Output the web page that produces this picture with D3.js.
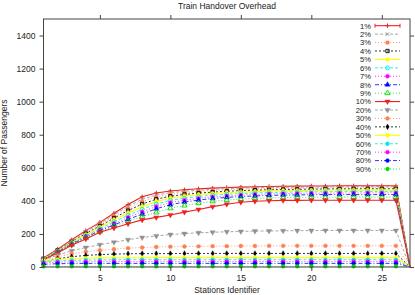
<!DOCTYPE html>
<html>
<head>
<meta charset="utf-8">
<script src="https://cdn.jsdelivr.net/npm/d3@7"></script>
<style>
  body { margin: 0; background: #fff; }
  svg { display: block; font-family: "Liberation Sans", Arial, sans-serif; }
</style>
</head>
<body>
<div id="chart"></div>
<script>
// station ids 1..27
const stations = d3.range(1, 28);
const labels = ['1%', '2%', '3%', '4%', '5%', '6%', '7%', '8%', '9%', '10%',
  '20%', '30%', '40%', '50%', '60%', '70%', '80%', '90%'];

const s1  = [55,108,165,220,270,325,378,425,448,460,467,473,477,481,483,485,487,488,489,490,490,491,491,491,491,491,0];
const s2  = [52,105,160,214,263,316,366,410,435,450,458,465,470,474,477,479,481,482,483,484,485,485,486,486,486,486,0];
const s3  = [50,102,156,208,256,306,354,396,423,440,449,457,463,467,470,473,475,476,477,478,479,479,480,480,480,480,0];
const s4  = [50,100,152,202,248,296,341,381,410,428,439,447,453,458,462,465,467,469,470,471,472,472,473,473,473,473,0];
const s5  = [48,97,148,195,240,285,327,365,396,416,428,437,444,449,453,456,459,461,462,463,464,464,465,465,465,465,0];
const s6  = [47,95,144,189,232,274,313,349,381,403,416,426,434,440,444,448,450,452,454,455,455,456,456,456,456,456,0];
const s7  = [46,93,141,184,225,264,300,334,366,390,404,415,424,430,435,439,442,444,445,446,447,447,448,448,448,448,0];
const s8  = [45,91,138,180,219,255,288,320,352,377,393,405,414,421,426,430,433,435,436,437,438,438,438,438,438,438,0];
const s9  = [44,88,135,175,214,247,277,305,330,355,372,386,397,405,411,415,418,420,421,422,422,422,423,423,423,423,0];
const s10 = [44,85,132,170,210,236,262,285,300,315,332,348,365,380,392,398,401,403,403,404,404,404,404,404,404,404,0];
const s20 = [42,72,98,118,135,150,165,178,188,196,202,207,210,213,215,217,218,219,220,220,221,221,221,221,221,221,0];
const s30 = [38,62,80,92,101,108,114,118,121,123,124,125,126,126,127,127,128,128,128,128,128,128,128,128,128,128,0];
const s40 = [32,50,62,70,75,78,80,81,81,81,82,82,82,82,82,82,82,82,82,82,82,82,82,82,82,82,0];
const s50 = [38,45,50,53,55,56,56,56,57,57,57,57,57,57,57,57,57,57,57,57,57,57,57,57,57,57,0];
const s60 = [30,36,40,42,43,44,44,44,44,44,44,44,44,44,44,44,44,44,44,44,44,44,44,44,44,44,0];
const s70 = [24,29,31,32,33,33,33,33,33,33,33,33,33,33,33,33,33,33,33,33,33,33,33,33,33,33,0];
const s80 = [16,20,21,22,22,22,22,22,22,22,22,22,22,22,22,22,22,22,22,22,22,22,22,22,22,22,0];
const s90 = [4,4,4,4,4,4,4,4,4,4,4,4,4,4,4,4,4,4,4,4,4,4,4,4,4,4,0];

const seriesValues = [s1, s2, s3, s4, s5, s6, s7, s8, s9, s10,
  s20, s30, s40, s50, s60, s70, s80, s90];

const xTicks = [5, 10, 15, 20, 25];
const yTicks = [0, 200, 400, 600, 800, 1000, 1200, 1400];

// gnuplot-like styles per series
const colors = ['#ee2020', '#909090', '#ff7f50', '#000000', '#ffff00', '#00e8e8', '#ff00ff', '#0000ff', '#00dd00',
  '#ee2020', '#909090', '#ff7f50', '#000000', '#ffff00', '#00e8e8', '#ff00ff', '#0000ff', '#00dd00'];
const dashes = [null, '3,2', '1,2', '2,2', null, '3,2', '1,2', '4,2,1,2', '1,2',
  null, '3,2', '1,2', '2,2', null, '3,2', '1,2', '4,2,1,2', '1,2'];
const shapes = ['plus', 'cross', 'sqf', 'sq', 'cirf', 'cir', 'cirf', 'trif', 'tri', 'tridf',
  'tridf', 'cirf', 'diaf', 'cirf', 'cirf', 'cirf', 'cirf', 'cirf'];

const W = 415, H = 295;
const x = d3.scaleLinear().domain([1, 27]).range([43.5, 410]);
const y = d3.scaleLinear().domain([0, 1500]).range([267, 19]);

const svg = d3.select('#chart').append('svg').attr('width', W).attr('height', H);

function marker(g, shape, color, cx, cy) {
  if (shape === 'plus') {
    g.append('path').attr('d', `M${cx - 2.2},${cy}H${cx + 2.2}M${cx},${cy - 2.2}V${cy + 2.2}`)
      .attr('stroke', color).attr('stroke-width', 1).attr('fill', 'none');
  } else if (shape === 'cross') {
    g.append('path').attr('d', `M${cx - 1.7},${cy - 1.7}L${cx + 1.7},${cy + 1.7}M${cx - 1.7},${cy + 1.7}L${cx + 1.7},${cy - 1.7}`)
      .attr('stroke', color).attr('stroke-width', 1).attr('fill', 'none');
  } else {
    let type = d3.symbolSquare, size = 11, rot = 0;
    if (shape.startsWith('cir')) { type = d3.symbolCircle; size = 12; }
    if (shape.startsWith('tri')) { type = d3.symbolTriangle; size = 12; }
    if (shape.startsWith('trid')) rot = 180;
    if (shape.startsWith('dia')) { type = d3.symbolDiamond; size = 9; }
    const filled = shape.endsWith('f');
    g.append('path')
      .attr('d', d3.symbol().type(type).size(size)())
      .attr('transform', `translate(${cx},${cy}) rotate(${rot})`)
      .attr('fill', filled ? color : 'none')
      .attr('stroke', color)
      .attr('stroke-width', filled ? 0.4 : 0.9);
  }
}

// series
const line = d3.line().x((d, i) => x(stations[i])).y(d => y(d));
seriesValues.forEach((vals, k) => {
  const g = svg.append('g');
  g.append('path')
    .attr('d', line(vals))
    .attr('fill', 'none')
    .attr('stroke', colors[k])
    .attr('stroke-width', dashes[k] ? 0.8 : 1.1)
    .attr('stroke-dasharray', dashes[k]);
  vals.forEach((v, i) => {
    if (i === vals.length - 1) return;
    marker(g, shapes[k], colors[k], x(stations[i]), y(v));
  });
});

// axes (ticks outward on all four sides)
const axisColor = '#444';
function styleAxis(g) {
  g.selectAll('path, line').attr('stroke', axisColor);
  g.selectAll('text').attr('fill', '#222').style('font-size', '8.5px');
  g.select('.domain').remove();
}
svg.append('g').attr('transform', 'translate(0,267)')
  .call(d3.axisBottom(x).tickValues(xTicks).tickSize(4).tickPadding(4)).call(styleAxis);
svg.append('g').attr('transform', 'translate(0,19)')
  .call(d3.axisTop(x).tickValues(xTicks).tickSize(4).tickFormat('')).call(styleAxis);
svg.append('g').attr('transform', 'translate(43.5,0)')
  .call(d3.axisLeft(y).tickValues(yTicks).tickSize(4).tickPadding(4).tickFormat(d3.format('d'))).call(styleAxis);
svg.append('g').attr('transform', 'translate(410,0)')
  .call(d3.axisRight(y).tickValues(yTicks).tickSize(4).tickFormat('')).call(styleAxis);

svg.append('rect')
  .attr('x', x(1)).attr('y', y(1500))
  .attr('width', x(27) - x(1)).attr('height', y(0) - y(1500))
  .attr('fill', 'none').attr('stroke', axisColor).attr('stroke-width', 1);

// legend
const lg = svg.append('g');
labels.forEach((lab, k) => {
  const ly = 25.7 + k * 8.43;
  lg.append('text').attr('x', 371).attr('y', ly + 2.8).attr('text-anchor', 'end')
    .style('font-size', '7.6px').attr('fill', '#222').text(lab);
  lg.append('line').attr('x1', 375).attr('x2', 400).attr('y1', ly).attr('y2', ly)
    .attr('stroke', colors[k]).attr('stroke-width', dashes[k] ? 0.8 : 1.1)
    .attr('stroke-dasharray', dashes[k]);
  if (shapes[k] === 'plus') {
    lg.append('path').attr('d', `M375,${ly - 2}V${ly + 2}M400,${ly - 2}V${ly + 2}`)
      .attr('stroke', colors[k]).attr('stroke-width', 1);
  }
  marker(lg, shapes[k], colors[k], 387.5, ly);
});

// titles
svg.append('text').attr('x', 227).attr('y', 9).attr('text-anchor', 'middle')
  .style('font-size', '8.5px').attr('fill', '#222').text('Train Handover Overhead');
svg.append('text').attr('x', 227).attr('y', 293).attr('text-anchor', 'middle')
  .style('font-size', '8.5px').attr('fill', '#222').text('Stations Identifier');
svg.append('text').attr('transform', 'translate(7,143) rotate(-90)').attr('text-anchor', 'middle')
  .style('font-size', '8.5px').attr('fill', '#222').text('Number of Passengers');
</script>
</body>
</html>
